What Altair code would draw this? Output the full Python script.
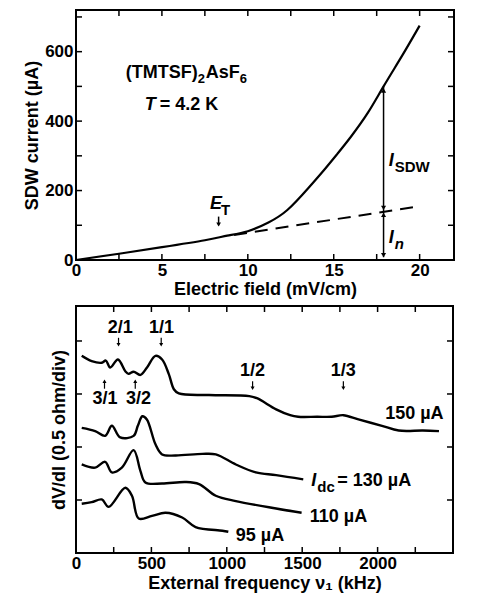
import altair as alt
import pandas as pd

FONT = "Liberation Sans"

# ---------------- top panel data ----------------
field = [0, 2.5, 5, 7.5, 8.8, 10, 11.2, 12.3, 13.5, 14.5, 15.2, 16, 17, 17.9, 19, 20]
current = [0, 18, 37, 57, 70, 83, 108, 144, 206, 263, 305, 355, 425, 500, 590, 675]
ohmic_field = [9.2, 20]
ohmic_current = [72, 155]
top_xticks = [0, 2.5, 5, 7.5, 10, 12.5, 15, 17.5, 20]
top_yticks = [100, 200, 300, 400, 500, 600, 700]
top_xlabels = [0, 5, 10, 15, 20]
top_ylabels = [0, 200, 400, 600]

# ---------------- bottom panel data ----------------
f150 = [38, 104, 171, 198, 227, 278, 327, 349, 382, 427, 471, 527, 571, 616, 649, 682, 882, 1149, 1200, 1327, 1420, 1473, 1600, 1696, 1773, 1873, 2029, 2140, 2300, 2407]
v150 = [3.72, 3.62, 3.59, 3.63, 3.50, 3.65, 3.43, 3.38, 3.42, 3.36, 3.50, 3.72, 3.65, 3.37, 3.09, 3.01, 2.98, 2.96, 2.92, 2.71, 2.60, 2.57, 2.57, 2.57, 2.60, 2.52, 2.40, 2.31, 2.31, 2.30]
f130 = [38, 127, 193, 238, 293, 382, 410, 440, 470, 527, 571, 660, 838, 927, 1060, 1193, 1327, 1507]
v130 = [2.36, 2.30, 2.21, 2.40, 2.18, 2.21, 2.40, 2.58, 2.52, 2.05, 1.86, 1.84, 1.87, 1.86, 1.67, 1.52, 1.47, 1.39]
f110 = [38, 127, 193, 238, 304, 382, 427, 460, 571, 727, 816, 927, 1060, 1327, 1496]
v110 = [1.67, 1.61, 1.72, 1.52, 1.61, 1.94, 1.55, 1.33, 1.31, 1.34, 1.30, 1.08, 0.98, 0.84, 0.76]
f95 = [38, 104, 171, 216, 327, 371, 416, 504, 593, 704, 793, 971, 1010]
v95 = [0.93, 0.96, 1.01, 0.87, 1.23, 1.08, 0.65, 0.70, 0.76, 0.67, 0.49, 0.42, 0.40]
bot_xticks = [250, 500, 750, 1000, 1250, 1500, 1750, 2000, 2250]
bot_yticks = [1, 2, 3, 4]
bot_xlabels = [0, 500, 1000, 1500, 2000]

# resonance labels (x, y, text) and arrow x positions
res_top = [(293, 4.25, "2/1"), (567, 4.25, "1/1")]
res_top_arrow_x = [282, 565]
res_mid = [(1171, 3.43, "1/2"), (1773, 3.43, "1/3")]
res_up = [(193, 2.9, "3/1"), (415, 2.9, "3/2")]
res_up_arrow_x = [189, 393]

W1, H1 = 378, 250
W2, H2 = 377, 247

XS1 = alt.Scale(domain=[0, 22], nice=False, zero=False)
YS1 = alt.Scale(domain=[0, 720], nice=False, zero=False)
XS2 = alt.Scale(domain=[0, 2500], nice=False, zero=False)
YS2 = alt.Scale(domain=[0, 4.66], nice=False, zero=False)

X1 = alt.X("x:Q", scale=XS1, axis=alt.Axis(values=top_xlabels, title="Electric field (mV/cm)", labelPadding=2, titlePadding=2, labelFlush=False))
Y1 = alt.Y("y:Q", scale=YS1, axis=alt.Axis(values=top_ylabels, title="SDW current (µA)", labelPadding=3, titlePadding=3, labelFlush=False))
X2 = alt.X("x:Q", scale=XS2, axis=alt.Axis(values=bot_xlabels, format="d", title="External frequency ν₁ (kHz)", labelPadding=2, titlePadding=3, labelFlush=False))
Y2 = alt.Y("y:Q", scale=YS2, axis=alt.Axis(values=bot_yticks, labels=False, title="dV/dI (0.5 ohm/div)", titlePadding=8))


def tick_layers(xvals, yvals, W, H, X, Y, L=6):
    dx = pd.DataFrame({"x": xvals})
    dy = pd.DataFrame({"y": yvals})
    r = dict(color="black", strokeWidth=1.5)
    return [
        alt.Chart(dx).mark_rule(**r).encode(x=X, y=alt.value(H), y2=alt.value(H - L)),
        alt.Chart(dx).mark_rule(**r).encode(x=X, y=alt.value(0), y2=alt.value(L)),
        alt.Chart(dy).mark_rule(**r).encode(y=Y, x=alt.value(0), x2=alt.value(L)),
        alt.Chart(dy).mark_rule(**r).encode(y=Y, x=alt.value(W), x2=alt.value(W - L)),
    ]


def text(xs, ys, ts, X, Y, size=18, style="normal", dx=0, dy=0, align="left"):
    df = pd.DataFrame({"x": xs, "y": ys, "t": ts})
    return alt.Chart(df).mark_text(font=FONT, fontWeight="bold", fontSize=size, fontStyle=style,
                                   align=align, baseline="middle", dx=dx, dy=dy, color="black").encode(
        x=X, y=Y, text="t:N")


def points(xs, ys, shape, X, Y, size=30):
    df = pd.DataFrame({"x": xs, "y": ys})
    return alt.Chart(df).mark_point(shape=shape, filled=True, color="black", size=size, opacity=1).encode(x=X, y=Y)


def vrule(x, y1, y2, X, Y, w=1.5):
    df = pd.DataFrame({"x": [x], "y": [y1], "y2": [y2]})
    return alt.Chart(df).mark_rule(color="black", strokeWidth=w).encode(x=X, y=Y, y2="y2:Q")


# ---------------- top panel ----------------
main = alt.Chart(pd.DataFrame({"x": field, "y": current})).mark_line(
    color="black", strokeWidth=2.2, interpolate="natural").encode(x=X1, y=Y1)
dashed = alt.Chart(pd.DataFrame({"x": ohmic_field, "y": ohmic_current})).mark_line(
    color="black", strokeWidth=2, strokeDash=[13, 8]).encode(x=X1, y=Y1)

top_layers = [main, dashed]
top_layers += tick_layers(top_xticks, top_yticks, W1, H1, X1, Y1)
top_layers += [
    vrule(17.9, 8, 500, X1, Y1),
    points([17.9], [488], "triangle-up", X1, Y1, 26),
    points([17.9], [150], "triangle-down", X1, Y1, 26),
    points([17.9], [130], "triangle-up", X1, Y1, 26),
    points([17.9], [14], "triangle-down", X1, Y1, 26),
    vrule(8.3, 100, 125, X1, Y1),
    points([8.3], [102], "triangle-down", X1, Y1, 22),
    text([7.8], [162], ["E"], X1, Y1, style="italic"),
    text([7.8], [162], ["T"], X1, Y1, size=15, dx=11, dy=6),
    text([18.2], [285], ["I"], X1, Y1, style="italic"),
    text([18.2], [285], ["SDW"], X1, Y1, size=15, dx=6, dy=6),
    text([18.2], [62], ["I"], X1, Y1, style="italic"),
    text([18.2], [62], ["n"], X1, Y1, size=15, style="italic", dx=6, dy=6),
    text([2.9], [540], ["(TMTSF)"], X1, Y1, size=18),
    text([2.9], [540], ["2"], X1, Y1, size=13, dx=72, dy=6),
    text([2.9], [540], ["AsF"], X1, Y1, size=18, dx=80),
    text([2.9], [540], ["6"], X1, Y1, size=13, dx=114, dy=6),
    text([4.0], [445], ["T"], X1, Y1, size=18, style="italic"),
    text([4.0], [445], ["= 4.2 K"], X1, Y1, size=18, dx=15),
]
top = alt.layer(*top_layers).properties(width=W1, height=H1)

# ---------------- bottom panel ----------------
rows = []
for name, fs, vs in [("150", f150, v150), ("130", f130, v130), ("110", f110, v110), ("95", f95, v95)]:
    for f, v in zip(fs, vs):
        rows.append({"x": f, "y": v, "s": name})
curves = alt.Chart(pd.DataFrame(rows)).mark_line(
    color="black", strokeWidth=2.4, interpolate="catmull-rom").encode(x=X2, y=Y2, detail="s:N")

bot_layers = [curves]
bot_layers += tick_layers(bot_xticks, bot_yticks, W2, H2, X2, Y2)
bot_layers += [
    text([2050], [2.62], ["150 µA"], X2, Y2),
    text([1560], [1.36], ["I"], X2, Y2, style="italic"),
    text([1560], [1.36], ["dc"], X2, Y2, size=15, dx=6, dy=6),
    text([1560], [1.36], ["= 130 µA"], X2, Y2, dx=26),
    text([1550], [0.67], ["110 µA"], X2, Y2),
    text([1060], [0.32], ["95 µA"], X2, Y2),
]
for (x, y, t), ax in zip(res_top, res_top_arrow_x):
    bot_layers.append(text([x], [y], [t], X2, Y2, align="center"))
    bot_layers.append(vrule(ax, 4.06, 3.93, X2, Y2, w=1.2))
    bot_layers.append(points([ax], [3.93], "triangle-down", X2, Y2, 16))
for (x, y, t) in res_mid:
    bot_layers.append(text([x], [y], [t], X2, Y2, align="center"))
    bot_layers.append(vrule(x, 3.24, 3.11, X2, Y2, w=1.2))
    bot_layers.append(points([x], [3.11], "triangle-down", X2, Y2, 16))
for (x, y, t), ax in zip(res_up, res_up_arrow_x):
    bot_layers.append(text([x], [y], [t], X2, Y2, align="center"))
    bot_layers.append(vrule(ax, 3.10, 3.24, X2, Y2, w=1.2))
    bot_layers.append(points([ax], [3.24], "triangle-up", X2, Y2, 16))
bottom = alt.layer(*bot_layers).properties(width=W2, height=H2)

chart = alt.vconcat(top, bottom, spacing=5).properties(
    padding={"left": 14, "top": 0, "right": 5, "bottom": 5}
).configure_view(stroke="black", strokeWidth=2).configure_axis(
    labelFont=FONT, titleFont=FONT, labelFontSize=17, titleFontSize=18,
    labelFontWeight="bold", titleFontWeight="bold", ticks=False, domain=False, grid=False,
    labelColor="black", titleColor="black"
)

chart.save("out.html", embed_options={"renderer": "svg", "actions": False})
